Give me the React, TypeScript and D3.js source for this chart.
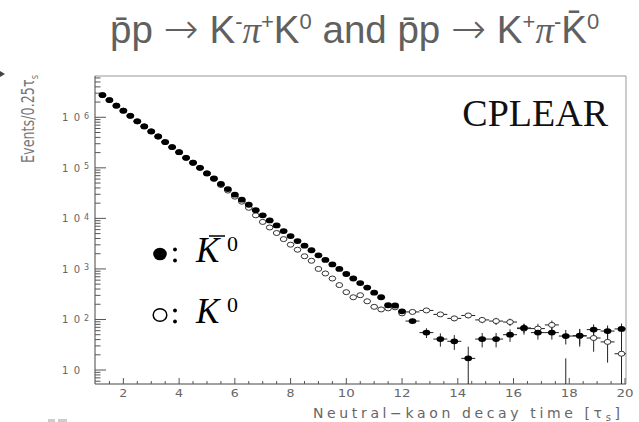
import React, { useRef, useEffect } from 'react';
import * as d3 from 'd3';

// bin centres (0.25 tau_s bins up to 12, then 0.5 tau_s bins)
const denseTimes = [
  1.25, 1.5, 1.75, 2, 2.25, 2.5, 2.75, 3, 3.25, 3.5, 3.75, 4, 4.25, 4.5, 4.75, 5,
  5.25, 5.5, 5.75, 6, 6.25, 6.5, 6.75, 7, 7.25, 7.5, 7.75, 8, 8.25, 8.5, 8.75, 9,
  9.25, 9.5, 9.75, 10, 10.25, 10.5, 10.75, 11, 11.25, 11.5, 11.75, 12,
];
const tailTimes = [
  12.375, 12.875, 13.375, 13.875, 14.375, 14.875, 15.375, 15.875,
  16.375, 16.875, 17.375, 17.875, 18.375, 18.875, 19.375, 19.875,
];

// K0-bar (filled circles)
const kbarDense = [
  2750000, 2190000, 1700000, 1350000, 1070000, 832000, 661000, 525000, 417000, 324000,
  257000, 204000, 158000, 126000, 100000, 77600, 61700, 47900, 38000, 29500,
  23400, 18600, 14500, 11500, 9100, 7240, 5620, 4470, 3550, 2880,
  2340, 1860, 1510, 1230, 1000, 794, 646, 525, 427, 339,
  275, 191, 189, 145,
];
const kbarTail = [93, 55, 41, 37, 17, 41, 41, 50, 68, 55, 55, 47, 48, 63, 59, 65];
const kbarTailErr = [11, 12, 12, 12, 12, 13, 13, 14, 14, 15, 15, 15, 16, 17, 17, 18];

// K0 (open circles)
const k0Dense = [
  2750000, 2190000, 1700000, 1350000, 1070000, 832000, 661000, 525000, 417000, 324000,
  257000, 204000, 158000, 126000, 100000, 77600, 60300, 45700, 35500, 26900,
  21400, 16200, 11500, 8510, 6610, 5130, 3890, 3020, 2400, 1780,
  1450, 1000, 813, 646, 479, 347, 275, 302, 229, 178,
  158, 166, 174, 132,
];
const k0Tail = [141, 151, 126, 105, 120, 98, 93, 89, 66, 66, 78, 3, 47, 43, 36, 21];
const k0TailErr = [12, 12, 13, 13, 14, 14, 15, 15, 16, 16, 17, 14, 18, 20, 22, 30];

const xTickLabels = [2, 4, 6, 8, 10, 12, 14, 16, 18, 20];
const yDecades = [1, 2, 3, 4, 5, 6];

const App = () => {
  const svgRef = useRef<SVGSVGElement>(null);

  useEffect(() => {
    const svg = d3.select(svgRef.current);
    svg.selectAll('*').remove();

    const frame = { left: 95, right: 626, top: 76, bottom: 384 };
    const x = d3.scaleLinear().domain([1, 20]).range([95.5, 625]);
    const y = d3.scaleLog().domain([5.29, 6.56e6]).range([frame.bottom, frame.top]);
    const grey = '#666';

    svg.append('defs').append('clipPath').attr('id', 'plotclip')
      .append('rect')
      .attr('x', frame.left).attr('y', frame.top)
      .attr('width', frame.right - frame.left).attr('height', frame.bottom - frame.top);

    // title
    const title = svg.append('text')
      .attr('x', 110).attr('y', 43)
      .attr('font-family', 'Liberation Sans, Arial, sans-serif')
      .attr('font-size', 38.5)
      .attr('fill', '#606060');
    const parts: [string, string][] = [
      ['p\u0304p ', 'n'], ['\u2192', 'a'], [' K', 'n'], ['-', 's'], ['\u03c0', 'g'], ['+', 's'], ['K', 'n'], ['0', 's'],
      [' and p\u0304p ', 'n'], ['\u2192', 'a'], [' K', 'n'], ['+', 's'], ['\u03c0', 'g'], ['-', 's'], ['K\u0304', 'n'], ['0', 's'],
    ];
    let shift = 0;
    parts.forEach(([t, kind]) => {
      const target = kind === 's' ? -14 : 0;
      const ts = title.append('tspan').attr('dy', target - shift).text(t);
      shift = target;
      if (kind === 's') ts.attr('font-size', 22);
      if (kind === 'g') ts.attr('font-family', 'Liberation Serif, serif').attr('font-style', 'italic').attr('font-size', 37);
      if (kind === 'a') ts.attr('font-family', 'DejaVu Sans, sans-serif').attr('font-size', 42).attr('font-weight', 300);
    });

    // frame
    svg.append('line').attr('x1', frame.left).attr('x2', frame.right)
      .attr('y1', frame.top).attr('y2', frame.top).attr('stroke', '#999');
    svg.append('line').attr('x1', frame.right).attr('x2', frame.right)
      .attr('y1', frame.top).attr('y2', frame.bottom).attr('stroke', '#999');
    svg.append('line').attr('x1', frame.left).attr('x2', frame.left)
      .attr('y1', frame.top).attr('y2', frame.bottom).attr('stroke', '#444');
    svg.append('line').attr('x1', frame.left).attr('x2', frame.right)
      .attr('y1', frame.bottom).attr('y2', frame.bottom).attr('stroke', '#444');

    // y ticks (log, inward)
    const [yLo, yHi] = y.domain();
    for (let d = 0; d <= 6; d++) {
      for (let m = 1; m <= 9; m++) {
        const v = m * Math.pow(10, d);
        if (v < yLo || v > yHi) continue;
        const len = m === 1 ? 11 : 5.5;
        svg.append('line')
          .attr('x1', frame.left).attr('x2', frame.left + len)
          .attr('y1', y(v)).attr('y2', y(v))
          .attr('stroke', '#555');
      }
    }
    yDecades.forEach(e => {
      const ty = y(Math.pow(10, e));
      svg.append('text')
        .attr('x', 62).attr('y', ty + 3.7)
        .attr('font-family', 'DejaVu Sans, sans-serif').attr('font-size', 10)
        .attr('textLength', 18).attr('lengthAdjust', 'spacing')
        .attr('fill', grey).text('10');
      if (e > 1) {
        svg.append('text')
          .attr('x', 84).attr('y', ty + 1.5)
          .attr('font-family', 'DejaVu Sans, sans-serif').attr('font-size', 8)
          .attr('fill', grey).text(String(e));
      }
    });

    // x ticks (inward)
    for (let t = 1.5; t <= 20; t += 0.5) {
      const len = t % 2 === 0 ? 6 : 3;
      svg.append('line')
        .attr('x1', x(t)).attr('x2', x(t))
        .attr('y1', frame.bottom).attr('y2', frame.bottom - len)
        .attr('stroke', '#555');
    }
    xTickLabels.forEach(t => {
      svg.append('text')
        .attr('x', x(t)).attr('y', 397)
        .attr('text-anchor', 'middle')
        .attr('font-family', 'DejaVu Sans, sans-serif').attr('font-size', 10)
        .attr('textLength', t < 10 ? 8 : 17).attr('lengthAdjust', 'spacingAndGlyphs')
        .attr('fill', grey).text(String(t));
    });

    // axis labels
    const xl = svg.append('text')
      .attr('x', 313).attr('y', 418)
      .attr('font-family', 'DejaVu Sans, sans-serif').attr('font-size', 14)
      .attr('textLength', 307).attr('lengthAdjust', 'spacing')
      .attr('fill', grey);
    xl.append('tspan').text('Neutral\u2212kaon decay time [\u03c4');
    xl.append('tspan').attr('dy', 3).attr('font-size', 10).text('s');
    xl.append('tspan').attr('dy', -3).text(']');

    const yl = svg.append('text')
      .attr('transform', 'translate(34,163) rotate(-90)')
      .attr('font-family', 'DejaVu Sans, sans-serif').attr('font-size', 17)
      .attr('textLength', 88).attr('lengthAdjust', 'spacingAndGlyphs')
      .attr('fill', '#777');
    yl.append('tspan').text('Events/0.25\u03c4');
    yl.append('tspan').attr('dy', 4).attr('font-size', 11).text('s');

    // data rows
    const kbarRows = denseTimes.map((t, i) => ({ t, v: kbarDense[i], e: 0, hw: 0.125 }))
      .concat(tailTimes.map((t, i) => ({ t, v: kbarTail[i], e: kbarTailErr[i], hw: 0.25 })));
    const k0Rows = denseTimes.map((t, i) => ({ t, v: k0Dense[i], e: 0, hw: 0.125 }))
      .concat(tailTimes.map((t, i) => ({ t, v: k0Tail[i], e: k0TailErr[i], hw: 0.25 })));

    const plot = svg.append('g').attr('clip-path', 'url(#plotclip)');
    const yc = (v: number) => (v <= yLo ? frame.bottom + 5 : y(v));

    [k0Rows, kbarRows].forEach(rows => {
      rows.forEach(d => {
        plot.append('line')
          .attr('x1', x(d.t - d.hw)).attr('x2', x(d.t + d.hw))
          .attr('y1', yc(d.v)).attr('y2', yc(d.v))
          .attr('stroke', '#222').attr('stroke-width', 1);
        if (d.e > 0) {
          plot.append('line')
            .attr('x1', x(d.t)).attr('x2', x(d.t))
            .attr('y1', yc(d.v + d.e)).attr('y2', yc(d.v - d.e))
            .attr('stroke', '#222').attr('stroke-width', 1);
        }
      });
    });

    plot.selectAll('.k0')
      .data(k0Rows)
      .enter().append('ellipse')
      .attr('class', 'k0')
      .attr('cx', d => x(d.t)).attr('cy', d => yc(d.v))
      .attr('rx', 3.3).attr('ry', 2.5)
      .attr('fill', '#fff').attr('stroke', '#333').attr('stroke-width', 1);

    plot.selectAll('.kbar')
      .data(kbarRows)
      .enter().append('ellipse')
      .attr('class', 'kbar')
      .attr('cx', d => x(d.t)).attr('cy', d => yc(d.v))
      .attr('rx', 3.9).attr('ry', 2.9)
      .attr('fill', '#000');

    // CPLEAR tag
    svg.append('text')
      .attr('x', 608).attr('y', 126)
      .attr('text-anchor', 'end')
      .attr('font-family', 'Liberation Serif, serif').attr('font-size', 38)
      .attr('fill', '#111').text('CPLEAR');

    // legend
    const legend = [
      { cy: 254, base: 262, filled: true },
      { cy: 315, base: 323, filled: false },
    ];
    legend.forEach(l => {
      svg.append('ellipse')
        .attr('cx', 160).attr('cy', l.cy).attr('rx', 6.8).attr('ry', 6.3)
        .attr('fill', l.filled ? '#000' : '#fff')
        .attr('stroke', '#000').attr('stroke-width', l.filled ? 0 : 1.5);
      svg.append('circle').attr('cx', 175).attr('cy', l.cy - 4.5).attr('r', 1.9).attr('fill', '#000');
      svg.append('circle').attr('cx', 175).attr('cy', l.cy + 6.5).attr('r', 1.9).attr('fill', '#000');
      svg.append('text')
        .attr('x', 196).attr('y', l.base)
        .attr('font-family', 'Liberation Serif, serif').attr('font-style', 'italic')
        .attr('font-size', 35).attr('fill', '#000').text('K');
      svg.append('text')
        .attr('x', 227).attr('y', l.base - 11.5)
        .attr('font-family', 'Liberation Serif, serif')
        .attr('font-size', 22).attr('fill', '#000').text('0');
      if (l.filled) {
        svg.append('line')
          .attr('x1', 209).attr('x2', 225)
          .attr('y1', l.base - 26).attr('y2', l.base - 26)
          .attr('stroke', '#000').attr('stroke-width', 1.5);
      }
    });

    // small cropped marks at the image edges
    svg.append('path').attr('d', 'M0,71 L5,74 L0,77 Z').attr('fill', '#444');
    svg.append('rect').attr('x', 48).attr('y', 419).attr('width', 7).attr('height', 3).attr('fill', '#ccc');
    svg.append('rect').attr('x', 58).attr('y', 419).attr('width', 9).attr('height', 3).attr('fill', '#ccc');
  }, []);

  return (
    <svg ref={svgRef} width={639} height={422}
      style={{ position: 'absolute', left: 0, top: 0, background: '#fff' }} />
  );
};

export default App;
